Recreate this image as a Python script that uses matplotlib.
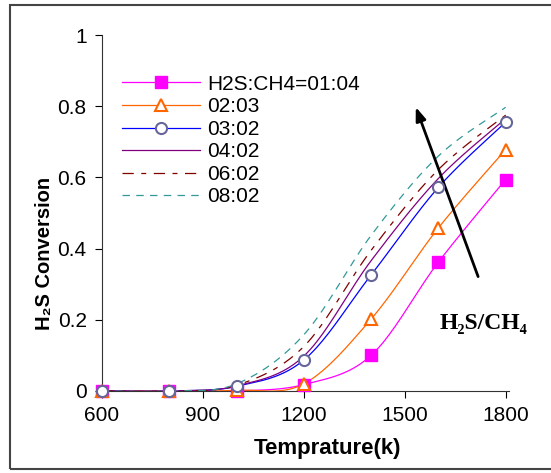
import numpy as np
import matplotlib
matplotlib.use("Agg")
from matplotlib import pyplot as plt
from matplotlib.patches import Rectangle

temps = [600, 800, 1000, 1200, 1400, 1600, 1800]
labels = ["H2S:CH4=01:04", "02:03", "03:02", "04:02", "06:02", "08:02"]
conv_0104 = [0, 0, 0.0, 0.018, 0.10, 0.362, 0.594]
conv_0203 = [0, 0, 0.002, 0.02, 0.202, 0.458, 0.678]
conv_0302 = [0, 0, 0.013, 0.087, 0.326, 0.572, 0.755]
conv_0402 = [0, 0, 0.014, 0.098, 0.366, 0.597, 0.765]
conv_0602 = [0, 0, 0.016, 0.125, 0.395, 0.622, 0.775]
conv_0802 = [0, 0, 0.02, 0.158, 0.437, 0.66, 0.797]


def smooth(x, y, n=40):
    # excel style smoothed line (bezier through the points)
    x = np.asarray(x, float)
    y = np.asarray(y, float)
    px = np.concatenate([[x[0]], x, [x[-1]]])
    py = np.concatenate([[y[0]], y, [y[-1]]])
    t = np.linspace(0, 1, n)
    xs, ys = [], []
    for i in range(len(x) - 1):
        p0 = np.array([px[i + 1], py[i + 1]])
        p3 = np.array([px[i + 2], py[i + 2]])
        p1 = p0 + (p3 - np.array([px[i], py[i]])) / 6
        p2 = p3 - (np.array([px[i + 3], py[i + 3]]) - p0) / 6
        b = ((1 - t) ** 3)[:, None] * p0 + (3 * (1 - t) ** 2 * t)[:, None] * p1 \
            + (3 * (1 - t) * t ** 2)[:, None] * p2 + (t ** 3)[:, None] * p3
        xs.extend(b[:, 0])
        ys.extend(b[:, 1])
    return xs, ys


plt.rcParams["font.family"] = ["Liberation Sans", "DejaVu Sans"]
fig = plt.figure(figsize=(5.51, 4.73), dpi=100)
ax = fig.add_axes([0.1851, 0.1734, 0.7387, 0.7526])

series = [conv_0104, conv_0203, conv_0302, conv_0402, conv_0602, conv_0802]
styles = [
    dict(color="#FF00FF", ls="-", marker="s", mfc="#FF00FF", mec="#FF00FF", ms=8),
    dict(color="#FF6600", ls="-", marker="^", mfc="white", mec="#FF6600", ms=9, mew=1.5),
    dict(color="#0000FF", ls="-", marker="o", mfc="white", mec="#666699", ms=8, mew=1.5),
    dict(color="#800080", ls="-", marker=None),
    dict(color="#800000", ls=(0, (9, 6, 4, 6)), marker=None),
    dict(color="#339999", ls=(0, (6, 5)), marker=None),
]

for vals, lab, st in zip(series, labels, styles):
    st = dict(st)
    color = st.pop("color")
    ls = st.pop("ls")
    marker = st.pop("marker")
    sx, sy = smooth(temps, vals)
    ax.plot(sx, sy, color=color, ls=ls, lw=0.9)
    if marker:
        ax.plot(temps, vals, ls="none", marker=marker, clip_on=False, zorder=5, **st)
    # legend proxy
    ax.plot([], [], color=color, ls=ls, lw=0.9, marker=marker, label=lab, **st)

ax.set_xlim(600, 1810)
ax.set_ylim(0, 1)
ax.set_xticks([600, 900, 1200, 1500, 1800])
ax.set_yticks([0, 0.2, 0.4, 0.6, 0.8, 1])
ax.set_yticklabels(["0", "0.2", "0.4", "0.6", "0.8", "1"])
ax.tick_params(labelsize=15, length=5, width=0.8, direction="out", pad=6)
ax.spines["top"].set_visible(False)
ax.spines["right"].set_visible(False)
ax.spines["left"].set_color("#333333")
ax.spines["bottom"].set_color("#333333")

ax.set_xlabel("Temprature(k)", fontsize=16, fontweight="bold")
ax.xaxis.set_label_coords(0.553, -0.133)
ax.set_ylabel("H₂S Conversion", fontsize=14.5, fontweight="bold")
ax.yaxis.set_label_coords(-0.118, 0.385)

ax.legend(loc="upper left", bbox_to_anchor=(0.221, 0.842), bbox_transform=fig.transFigure,
          frameon=False, fontsize=15, handlelength=3.75, handletextpad=0.35,
          labelspacing=0.17, borderpad=0, borderaxespad=0)

ax.annotate("", xy=(1530, 0.805), xytext=(1721, 0.314),
            arrowprops=dict(arrowstyle="-|>,head_length=0.8,head_width=0.3", color="black", lw=2))
ax.text(1735, 0.19, "H₂S/CH₄", fontsize=17, fontweight="bold",
        family=["Liberation Serif", "DejaVu Serif"], ha="center", va="center")

fig.patches.append(Rectangle((10 / 551, 1 - 469 / 473), 1.0, 464 / 473, transform=fig.transFigure,
                             fill=False, edgecolor="#444444", lw=1.5))

plt.savefig("out.png", dpi=100)
